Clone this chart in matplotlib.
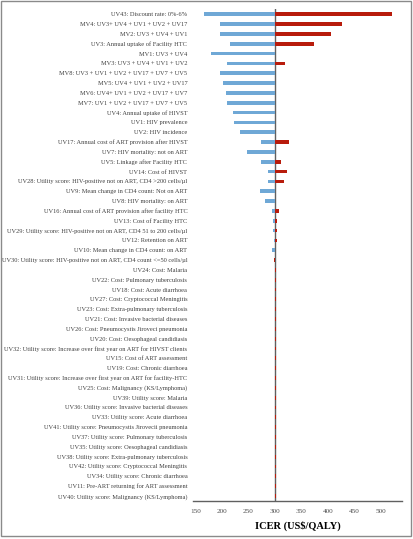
import matplotlib
matplotlib.use("Agg")
import matplotlib.pyplot as plt
from matplotlib.patches import Rectangle

labels = [
    "UV43: Discount rate: 0%-6%",
    "MV4: UV3+ UV4 + UV1 + UV2 + UV17",
    "MV2: UV3 + UV4 + UV1",
    "UV3: Annual uptake of Facility HTC",
    "MV1: UV3 + UV4",
    "MV3: UV3 + UV4 + UV1 + UV2",
    "MV8: UV3 + UV1 + UV2 + UV17 + UV7 + UV5",
    "MV5: UV4 + UV1 + UV2 + UV17",
    "MV6: UV4+ UV1 + UV2 + UV17 + UV7",
    "MV7: UV1 + UV2 + UV17 + UV7 + UV5",
    "UV4: Annual uptake of HIVST",
    "UV1: HIV prevalence",
    "UV2: HIV incidence",
    "UV17: Annual cost of ART provision after HIVST",
    "UV7: HIV mortality: not on ART",
    "UV5: Linkage after Facility HTC",
    "UV14: Cost of HIVST",
    "UV28: Utility score: HIV-positive not on ART, CD4 >200 cells/µl",
    "UV9: Mean change in CD4 count: Not on ART",
    "UV8: HIV mortality: on ART",
    "UV16: Annual cost of ART provision after facility HTC",
    "UV13: Cost of Facility HTC",
    "UV29: Utility score: HIV-positive not on ART, CD4 51 to 200 cells/µl",
    "UV12: Retention on ART",
    "UV10: Mean change in CD4 count: on ART",
    "UV30: Utility score: HIV-positive not on ART, CD4 count <=50 cells/µl",
    "UV24: Cost: Malaria",
    "UV22: Cost: Pulmonary tuberculosis",
    "UV18: Cost: Acute diarrhoea",
    "UV27: Cost: Cryptococcal Meningitis",
    "UV23: Cost: Extra-pulmonary tuberculosis",
    "UV21: Cost: Invasive bacterial diseases",
    "UV26: Cost: Pneumocystis Jiroveci pneumonia",
    "UV20: Cost: Oesophageal candidiasis",
    "UV32: Utility score: Increase over first year on ART for HIVST clients",
    "UV15: Cost of ART assessment",
    "UV19: Cost: Chronic diarrhoea",
    "UV31: Utility score: Increase over first year on ART for facility-HTC",
    "UV25: Cost: Malignancy (KS/Lymphoma)",
    "UV39: Utility score: Malaria",
    "UV36: Utility score: Invasive bacterial diseases",
    "UV33: Utility score: Acute diarrhoea",
    "UV41: Utility score: Pneumocystis Jirovecii pneumonia",
    "UV37: Utility score: Pulmonary tuberculosis",
    "UV35: Utility score: Oesophageal candidiasis",
    "UV38: Utility score: Extra-pulmonary tuberculosis",
    "UV42: Utility score: Cryptococcal Meningitis",
    "UV34: Utility score: Chronic diarrhoea",
    "UV11: Pre-ART returning for ART assessment",
    "UV40: Utility score: Malignancy (KS/Lymphoma)",
]

base_icer = 300
low_icer = [166, 197, 196, 215, 180, 209, 196, 201, 208, 210,
            221.5, 223, 233, 273, 248, 273, 287.5, 287.5, 271, 282,
            295, 295.6, 297, 297.5, 295, 300] + [300] * 24
high_icer = [522, 426, 405, 374, 300, 319, 300, 300, 300, 300,
             300, 300, 300, 327, 300, 312, 322, 318, 300, 300,
             307, 304, 304, 304, 300, 297.5] + [302] * 24

xticks = [150, 200, 250, 300, 350, 400, 450, 500]

fig = plt.figure(figsize=(4.14, 5.39), dpi=100)
ax = fig.add_axes([0.466, 0.0711, 0.505, 0.9115])

y = list(range(len(labels)))
ax.axvline(base_icer, color="#606060", lw=1.0, zorder=2)
ax.barh(y, [v - base_icer for v in low_icer], left=base_icer, height=0.38,
        color="#6fa8d6", zorder=3)
ax.barh(y, [v - base_icer for v in high_icer], left=base_icer, height=0.38,
        color="#b81c0c", zorder=3)

ax.set_ylim(49.48, -0.5)
ax.set_xlim(145, 540)
ax.set_yticks(y)
ax.set_yticklabels(labels, fontsize=4.55, family="Liberation Serif", color="#404040")
ax.set_xticks(xticks)
ax.set_xticklabels([str(t) for t in xticks], fontsize=5.2, family="Liberation Serif",
                   color="#505050")
ax.tick_params(axis="both", length=0, pad=4)
ax.tick_params(axis="x", pad=6)
for s in ["top", "right", "left"]:
    ax.spines[s].set_visible(False)
ax.spines["bottom"].set_color("#606060")
ax.spines["bottom"].set_linewidth(1.0)
ax.set_xlabel("ICER (US$/QALY)", fontsize=7.5, fontweight="bold",
              family="Liberation Serif", labelpad=5)

fig.patches.append(Rectangle((1 / 414, 3 / 539), 410 / 414, 535 / 539,
                             transform=fig.transFigure, fill=False,
                             edgecolor="#8a8a8a", lw=1.0))

fig.savefig("out.png", dpi=100)
